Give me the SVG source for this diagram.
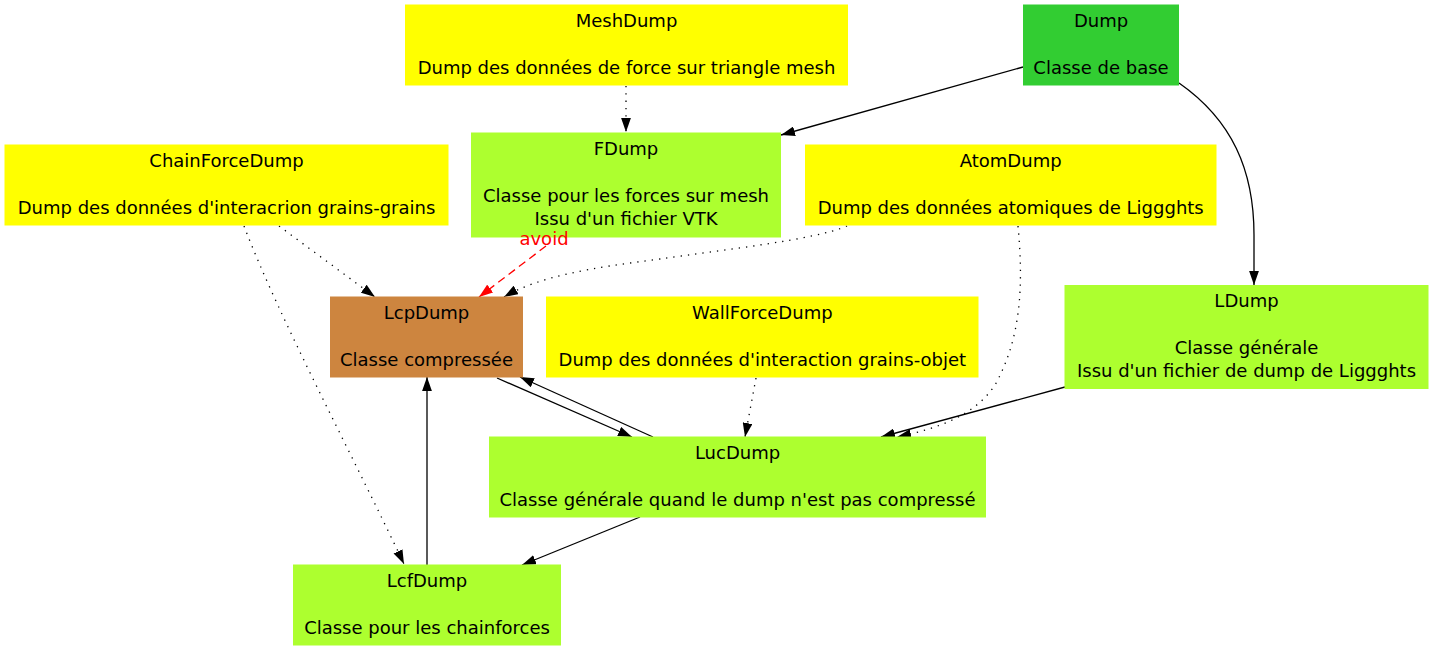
<svg xmlns="http://www.w3.org/2000/svg" width="1433" height="651" viewBox="0 0 1433 651">
<defs>
<style>
text{font-family:"DejaVu Sans","Liberation Sans",sans-serif;font-size:18px;fill:#000;text-anchor:middle}
.y{fill:#FFFF00}
.g{fill:#ADFF2F}
.lg{fill:#32CD32}
.p{fill:#CD853F}
.e{fill:none;stroke:#000;stroke-width:1.3}
.dot{stroke-dasharray:1.3,6}
.red{stroke:#FF0000;stroke-dasharray:8,5}
.lbl{fill:#FF0000}
</style>
<marker id="ah" viewBox="0 0 10 7" refX="10" refY="3.5" markerWidth="14" markerHeight="10" markerUnits="userSpaceOnUse" orient="auto"><path d="M0,0L10,3.5L0,7z" fill="#000"/></marker>
<marker id="ahr" viewBox="0 0 10 7" refX="10" refY="3.5" markerWidth="14" markerHeight="10" markerUnits="userSpaceOnUse" orient="auto"><path d="M0,0L10,3.5L0,7z" fill="#FF0000"/></marker>
</defs>
<rect width="1433" height="651" fill="#fff"/>
<g id="edges">
<path class="e dot" d="M626,86 L626,132" marker-end="url(#ah)"/>
<path class="e" d="M1023,67 L781,135" marker-end="url(#ah)"/>
<path class="e" d="M1179,83 C1232,120 1254,170 1254,235 L1254,285" marker-end="url(#ah)"/>
<path class="e dot" d="M279,226 L375,297" marker-end="url(#ah)"/>
<path class="e dot" d="M244,226 C280,320 350,450 404,564" marker-end="url(#ah)"/>
<path class="e red" d="M546,246 L479,297" marker-end="url(#ahr)"/>
<path class="e dot" d="M847,226 C815,240 720,250 660,259 C590,268 540,276 504,297" marker-end="url(#ah)"/>
<path class="e dot" d="M1018,226 C1024,290 1020,340 995,385 C975,415 940,428 897,437" marker-end="url(#ah)"/>
<path class="e dot" d="M756,378 L745,437" marker-end="url(#ah)"/>
<path class="e" d="M1065,387 L881,437" marker-end="url(#ah)"/>
<path class="e" d="M497,378 L632,437" marker-end="url(#ah)"/>
<path class="e" d="M653,437 L520,377" marker-end="url(#ah)"/>
<path class="e" d="M427,565 L427,377" marker-end="url(#ah)"/>
<path class="e" d="M640,517 L522,565" marker-end="url(#ah)"/>
</g>
<g id="MeshDump"><rect class="y" x="405" y="4.5" width="443" height="81"/><text x="626.5" y="26.5">MeshDump</text><text x="626.5" y="73.5">Dump des données de force sur triangle mesh</text></g>
<g id="Dump"><rect class="lg" x="1023" y="4.5" width="156" height="81"/><text x="1101" y="26.5">Dump</text><text x="1101" y="73.5">Classe de base</text></g>
<g id="FDump"><rect class="g" x="471" y="132.5" width="310" height="105"/><text x="626" y="154.5">FDump</text><text x="626" y="201.5">Classe pour les forces sur mesh</text><text x="626" y="225">Issu d'un fichier VTK</text></g>
<g id="ChainForceDump"><rect class="y" x="4.5" y="144.5" width="444" height="81"/><text x="226.5" y="166.5">ChainForceDump</text><text x="226.5" y="213.5">Dump des données d'interacrion grains-grains</text></g>
<g id="AtomDump"><rect class="y" x="805" y="144.5" width="411.5" height="81"/><text x="1010.7" y="166.5">AtomDump</text><text x="1010.7" y="213.5">Dump des données atomiques de Liggghts</text></g>
<g id="LcpDump"><rect class="p" x="330" y="296.5" width="193" height="81"/><text x="426.5" y="318.5">LcpDump</text><text x="426.5" y="365.5">Classe compressée</text></g>
<g id="WallForceDump"><rect class="y" x="546" y="296.5" width="432.5" height="81"/><text x="762.3" y="318.5">WallForceDump</text><text x="762.3" y="365.5">Dump des données d'interaction grains-objet</text></g>
<g id="LDump"><rect class="g" x="1064.5" y="285" width="364" height="104"/><text x="1246.5" y="306.5">LDump</text><text x="1246.5" y="353.5">Classe générale</text><text x="1246.5" y="377">Issu d'un fichier de dump de Liggghts</text></g>
<g id="LucDump"><rect class="g" x="489" y="436.5" width="497" height="81"/><text x="737.5" y="458.5">LucDump</text><text x="737.5" y="505.5">Classe générale quand le dump n'est pas compressé</text></g>
<g id="LcfDump"><rect class="g" x="293" y="564.5" width="268" height="81"/><text x="427" y="586.5">LcfDump</text><text x="427" y="633.5">Classe pour les chainforces</text></g>
<g id="edge-labels"><text class="lbl" x="544" y="245">avoid</text></g>
</svg>
